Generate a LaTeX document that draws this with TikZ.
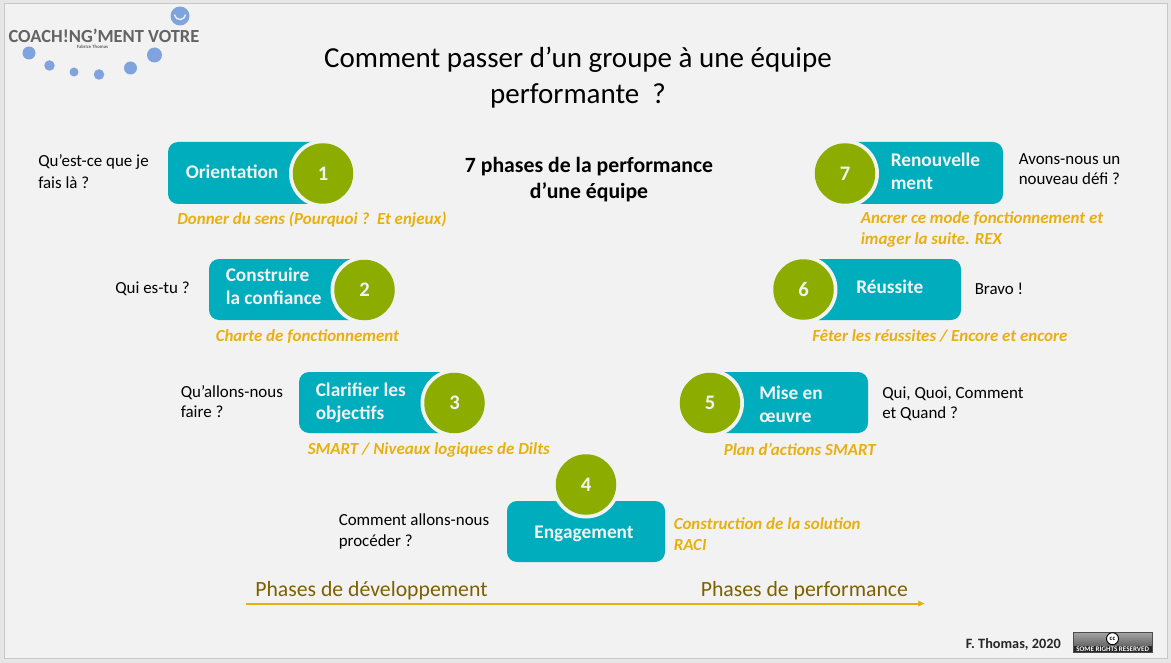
\documentclass[tikz,border=0pt]{standalone}
\usepackage{fontspec}
\usetikzlibrary{arrows.meta}
\setmainfont{Carlito}
\definecolor{bgc}{HTML}{F2F2F2}
\definecolor{edgec}{HTML}{E6E6E6}
\definecolor{framec}{HTML}{C8C8C8}
\definecolor{teal}{HTML}{00ADBD}
\definecolor{leaf}{HTML}{8CAD00}
\definecolor{gold}{HTML}{E8B00F}
\definecolor{olivet}{HTML}{7F6000}
\definecolor{dotc}{HTML}{7FA3DC}
\definecolor{logot}{HTML}{636363}
\tikzset{
  x=0.75pt,y=-0.75pt,
  tbox/.style={fill=teal,draw=none,rounded corners=7.5pt},
  ringc/.style={circle,fill=bgc,draw=none,minimum size=68*0.75pt,inner sep=0pt},
  num/.style={circle,fill=leaf,draw=none,minimum size=60.5*0.75pt,inner sep=0pt,text=bgc,font=\fontsize{15.5}{15.5}\selectfont\bfseries},
  lab/.style={text=bgc,font=\fontsize{14.5}{17.3}\selectfont\bfseries,align=left,inner sep=0pt},
  ask/.style={text=black,font=\fontsize{12.7}{15.2}\selectfont,align=left,inner sep=0pt,anchor=west},
  askwide/.style={text=black,font=\fontsize{12.7}{16.6}\selectfont,align=left,inner sep=0pt,anchor=west},
  note/.style={text=gold,font=\fontsize{12.7}{15.5}\selectfont\bfseries\itshape,align=left,inner sep=0pt,anchor=west},
  dot/.style={circle,fill=dotc,draw=none,inner sep=0pt},
}
\begin{document}
\begin{tikzpicture}
\useasboundingbox (0,0) rectangle (1171,663);
\fill[edgec] (0,0) rectangle (1171,663);
\draw[framec,fill=bgc,line width=0.75pt] (4,4) rectangle (1167,658);

% logo
\node[dot,minimum size=19*0.75pt] (d1) at (180,16) {};
\draw[bgc,line width=1pt,line cap=round] (174.5,15) arc[start angle=190,end angle=350,x radius=5.5,y radius=-5.5];
\node[text=logot,inner sep=0pt,font=\fontsize{13.85}{14}\selectfont\bfseries] (logo) at (104,35.5) {COACH!NG’MENT VOTRE};
\node[text=logot,inner sep=0pt,font=\fontsize{3.6}{4}\selectfont\bfseries] (logos) at (92.5,46.5) {Fabrice Thomas};
\node[dot,minimum size=13*0.75pt] (d2) at (29,53) {};
\node[dot,minimum size=10.5*0.75pt] (d3) at (49.5,65.5) {};
\node[dot,minimum size=9*0.75pt] (d4) at (74,72) {};
\node[dot,minimum size=10.5*0.75pt] (d5) at (99,74.5) {};
\node[dot,minimum size=13*0.75pt] (d6) at (130.5,68) {};
\node[dot,minimum size=15*0.75pt] (d7) at (154.5,55) {};

% titles
\node[inner sep=0pt,align=center,font=\fontsize{21.75}{26.5}\selectfont] (title) at (578,77.5) {Comment passer d’un groupe à une équipe\\performante\ \ ?};
\node[inner sep=0pt,align=center,font=\fontsize{16.3}{20}\selectfont\bfseries] (sub) at (589,179.5) {7 phases de la performance\\d’une équipe};

% boxes
\fill[tbox] (168,142) rectangle (340,204);
\node[ringc] (r1) at (323,173.5) {};
\node[num] (n1) at (323,173.5) {1};
\node[lab,anchor=west] (l1) at (185.5,172) {Orientation};

\fill[tbox] (209,259) rectangle (380,320);
\node[ringc] (r2) at (364.5,290) {};
\node[num] (n2) at (364.5,290) {2};
\node[lab,anchor=west] (l2) at (225.5,286.5) {Construire\\la confiance};

\fill[tbox] (299,372) rectangle (470,433);
\node[ringc] (r3) at (454.5,403) {};
\node[num] (n3) at (454.5,403) {3};
\node[lab,anchor=west] (l3) at (315.5,403) {Clarifier les\\objectifs};

\fill[tbox] (507,501) rectangle (665,562);
\node[ringc] (r4) at (586,484.5) {};
\node[num] (n4) at (586,484.5) {4};
\node[lab,anchor=center] (l4) at (584,534) {Engagement};

\fill[tbox] (695,372) rectangle (868,433);
\node[ringc] (r5) at (710,403) {};
\node[num] (n5) at (710,403) {5};
\node[lab,anchor=west] (l5) at (759,404) {Mise en\\œuvre};

\fill[tbox] (790,259) rectangle (961,320);
\node[ringc] (r6) at (803.5,289.5) {};
\node[num] (n6) at (803.5,289.5) {6};
\node[lab,anchor=west] (l6) at (856,287) {Réussite};

\fill[tbox] (830,142) rectangle (1003,204);
\node[ringc] (r7) at (845,173.5) {};
\node[num] (n7) at (845,173.5) {7};
\node[lab,anchor=west] (l7) at (890.5,171.5) {Renouvelle\\ment};

% questions
\node[askwide] (q1) at (38,172) {Qu’est-ce que je\\fais là ?};
\node[ask] (q2) at (115,289) {Qui es-tu ?};
\node[ask] (q3) at (180.5,401.5) {Qu’allons-nous\\faire ?};
\node[ask] (q4) at (338.5,531.5) {Comment allons-nous\\procéder ?};
\node[ask] (q5) at (882,403.5) {Qui, Quoi, Comment\\et Quand ?};
\node[ask] (q6) at (974.5,288.5) {Bravo !};
\node[ask] (q7) at (1018.5,169) {Avons-nous un\\nouveau défi ?};

% notes
\node[note] (c1) at (177,219.5) {Donner du sens (Pourquoi ?\ \ Et enjeux)};
\node[note] (c2) at (215.5,336.5) {Charte de fonctionnement};
\node[note] (c3) at (307.5,449.5) {SMART / Niveaux logiques de Dilts};
\node[note] (c4) at (673.5,534) {Construction de la solution\\RACI};
\node[note] (c5) at (723.5,449) {Plan d’actions SMART};
\node[note] (c6) at (812,336) {Fêter les réussites / Encore et encore};
\node[note] (c7) at (860.5,229.5) {Ancrer ce mode fonctionnement et\\imager la suite. REX};

% axis
\node[text=olivet,inner sep=0pt,anchor=west,font=\fontsize{16.3}{18}\selectfont] (p1) at (255,591) {Phases de développement};
\node[text=olivet,inner sep=0pt,anchor=west,font=\fontsize{16.3}{18}\selectfont] (p2) at (700.5,591) {Phases de performance};
\coordinate (a1) at (246,603.5);
\coordinate (a2) at (925,603.5);
\draw[gold,line width=1.5pt,-{Latex[length=5pt,width=5pt]}] (a1) -- (a2);

% footer
\node[inner sep=0pt,anchor=west,text=black!85,font=\fontsize{10.7}{11}\selectfont\bfseries] (fn) at (965.5,644) {F. Thomas, 2020};
\shade[top color=black!35,bottom color=black!60] (1073,632) rectangle (1152.5,646);
\fill[black!85] (1073,645.5) rectangle (1152.5,652.5);
\draw[black!70,line width=0.4pt] (1073,632) rectangle (1152.5,652.5);
\node[circle,draw=black,fill=white,line width=0.7pt,minimum size=12*0.75pt,inner sep=0pt,font=\fontsize{5}{5}\selectfont\bfseries] (cc) at (1112.5,638.7) {cc};
\node[inner sep=0pt,text=white,font=\fontsize{5.3}{6}\selectfont\bfseries] (rr) at (1112.7,649) {SOME RIGHTS RESERVED};
\end{tikzpicture}
\end{document}
